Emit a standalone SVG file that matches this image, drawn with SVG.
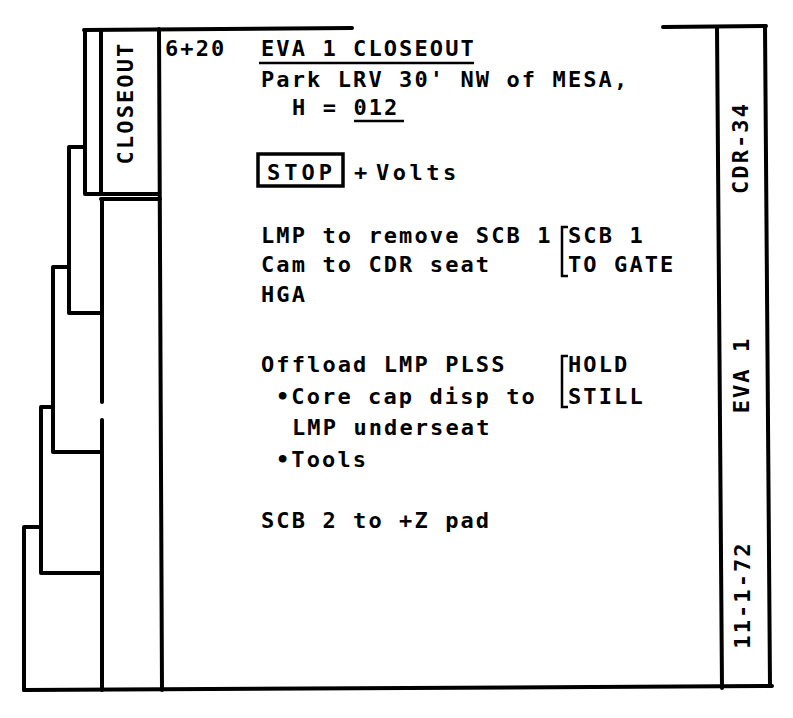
<svg xmlns="http://www.w3.org/2000/svg" width="793" height="718" viewBox="0 0 793 718">
<style>
.ln{fill:none;stroke:#000;stroke-width:4;stroke-linecap:round;stroke-linejoin:round}
.ul{fill:none;stroke:#000;stroke-width:2.5}
.br{fill:none;stroke:#000;stroke-width:2.5}
.t{font-family:"DejaVu Sans Mono","Liberation Mono",monospace;font-weight:bold;font-size:22px;letter-spacing:2.1px;fill:#000}
.m{text-anchor:middle}
</style>
<rect width="793" height="718" fill="#fff"/>
<g id="frame">
<path class="ln" d="M84,30 L352,28"/>
<path class="ln" d="M663,27 L766,26"/>
<path class="ln" d="M717,27 L722,688"/>
<path class="ln" d="M765,26 L770,686"/>
<path class="ln" d="M24,690 L772,686"/>
<path class="ln" d="M159,29 L162,690"/>
</g>
<g id="tabs">
<path class="ln" d="M85,30 V194 H159"/>
<path class="ln" d="M101,30 V192"/>
<path class="ln" d="M101,199 H160"/>
<path class="ln" d="M102,199 V402"/>
<path class="ln" d="M102,420 V690"/>
<path class="ln" d="M85,147 H69 V313 H102"/>
<path class="ln" d="M69,267 H53 V452 H102"/>
<path class="ln" d="M53,407 H41 V573 H102"/>
<path class="ln" d="M41,527 H24 V690"/>
</g>
<g id="tab-labels">
<text class="t m" transform="translate(133,103) rotate(-90)">CLOSEOUT</text>
<text class="t m" transform="translate(748,148) rotate(-90)">CDR-34</text>
<text class="t m" transform="translate(749,375) rotate(-90)">EVA 1</text>
<text class="t m" transform="translate(750,595) rotate(-90)">11-1-72</text>
</g>
<g id="time"><text class="t" x="165" y="56">6+20</text></g>
<g id="header">
<text class="t" x="261" y="56">EVA 1 CLOSEOUT</text>
<path class="ul" d="M259,63 H474"/>
<text class="t" x="261" y="87">Park LRV 30' NW of MESA,</text>
<text class="t" x="292" y="115">H = 012</text>
<path class="ul" d="M354,121 H404"/>
</g>
<g id="stop">
<rect x="258" y="154" width="85" height="32" fill="none" stroke="#000" stroke-width="3.5"/>
<text class="t" x="267" y="180" style="letter-spacing:4px">STOP</text>
<text class="t" x="354" y="180">+</text>
<text class="t" x="376" y="180" style="letter-spacing:3.5px">Volts</text>
</g>
<g id="scb1">
<text class="t" x="261" y="243">LMP to remove SCB 1</text>
<text class="t" x="261" y="272">Cam to CDR seat</text>
<text class="t" x="261" y="302">HGA</text>
<path class="br" d="M568,227 H562 V276 H568"/>
<text class="t" x="568" y="243">SCB 1</text>
<text class="t" x="568" y="272">TO GATE</text>
</g>
<g id="plss">
<text class="t" x="261" y="372">Offload LMP PLSS</text>
<text class="t" x="276" y="404">•Core cap disp to</text>
<text class="t" x="292" y="435">LMP underseat</text>
<text class="t" x="276" y="467">•Tools</text>
<path class="br" d="M568,356 H562 V407 H568"/>
<text class="t" x="568" y="372">HOLD</text>
<text class="t" x="568" y="404">STILL</text>
</g>
<g id="scb2">
<text class="t" x="261" y="528">SCB 2 to +Z pad</text>
</g>
</svg>
